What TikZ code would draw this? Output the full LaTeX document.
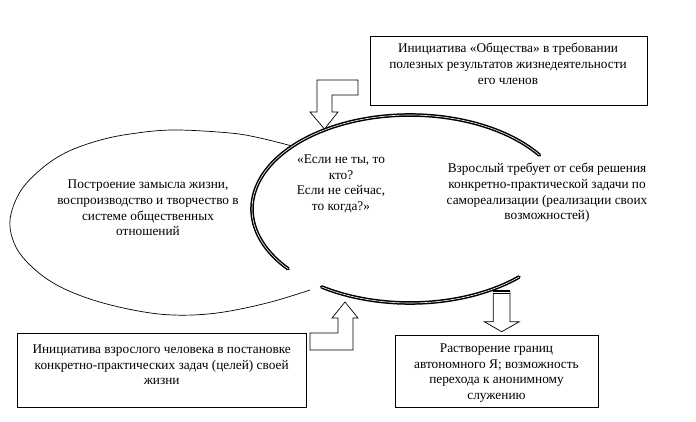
\documentclass[tikz,border=0pt]{standalone}
\usepackage{fontspec}
\setmainfont{Liberation Serif}
\begin{document}
\begin{tikzpicture}[x=1pt,y=-1pt,
  box/.style={draw, line width=0.8pt, inner sep=0pt},
  txt/.style={align=center, font=\fontsize{13.3}{15.7}\selectfont, inner sep=0pt},
  thinline/.style={line width=0.7pt},
  dbl/.style={draw=black, double=white, line width=1.5pt, double distance=0.6pt, line cap=round},
  blockarrow/.style={draw, line width=0.7pt, line join=miter, fill=white}]
\useasboundingbox (0,0) rectangle (696,421);

% left thin ellipse (open)
\draw[thinline] plot[smooth, tension=0.6] coordinates {(292,146) (260,138) (230,133) (173,130) (130,134) (97,141) (65,153) (40,170) (20,192) (10,220) (15,245) (30,265) (55,284) (90,299) (133,310) (173,315) (217,313) (267,303) (310,290)};

% right double ellipse arcs
\coordinate (rc) at (410,209);
\draw[dbl] ([shift={(-35:158 and 94)}]rc) arc[start angle=-35, end angle=-219.5, x radius=158, y radius=94];
\draw[dbl] ([shift={(-236:158 and 94)}]rc) arc[start angle=-236, end angle=-313.6, x radius=158, y radius=94];

% boxes
\node[box, minimum width=277pt, minimum height=69pt] (topbox) at (508.5,70.5) {};
\node[box, minimum width=289pt, minimum height=74pt] (blbox) at (161.5,370) {};
\node[box, minimum width=203pt, minimum height=72pt] (brbox) at (496.5,371) {};

% block arrows
\draw[blockarrow] (358,80) -- (358,95) -- (332,95) -- (332,112) -- (338,112) -- (324.5,129) -- (310,112) -- (317,112) -- (317,80) -- cycle;
\draw[blockarrow] (310,350) -- (353,350) -- (353,318) -- (358,318) -- (345,302) -- (332,318) -- (338,318) -- (338,333) -- (310,333) -- cycle;
\draw[blockarrow] (493.3,292) -- (510,292) -- (510,321.7) -- (519.3,321.7) -- (501.7,331.7) -- (484.3,321.7) -- (493.3,321.7) -- cycle;
\draw[dbl, line cap=butt] (493.3,292) -- (510,292);

% texts
\node[txt] (toptext) at (508,64) {Инициатива «Общества» в требовании\\полезных результатов жизнедеятельности\\его членов};
\node[txt] (lefttext) at (148,208) {Построение замысла жизни,\\воспроизводство и творчество в\\системе общественных\\отношений};
\node[txt] (midtext) at (341,184) {«Если не ты, то\\кто?\\Если не сейчас,\\то когда?»};
\node[txt] (righttext) at (547,193) {Взрослый требует от себя решения\\конкретно-практической задачи по\\самореализации (реализации своих\\возможностей)};
\node[txt] (bltext) at (161.7,365) {Инициатива взрослого человека в постановке\\конкретно-практических задач (целей) своей\\жизни};
\node[txt] (brtext) at (496.5,373) {Растворение границ\\автономного Я; возможность\\перехода к анонимному\\служению};
\end{tikzpicture}
\end{document}
